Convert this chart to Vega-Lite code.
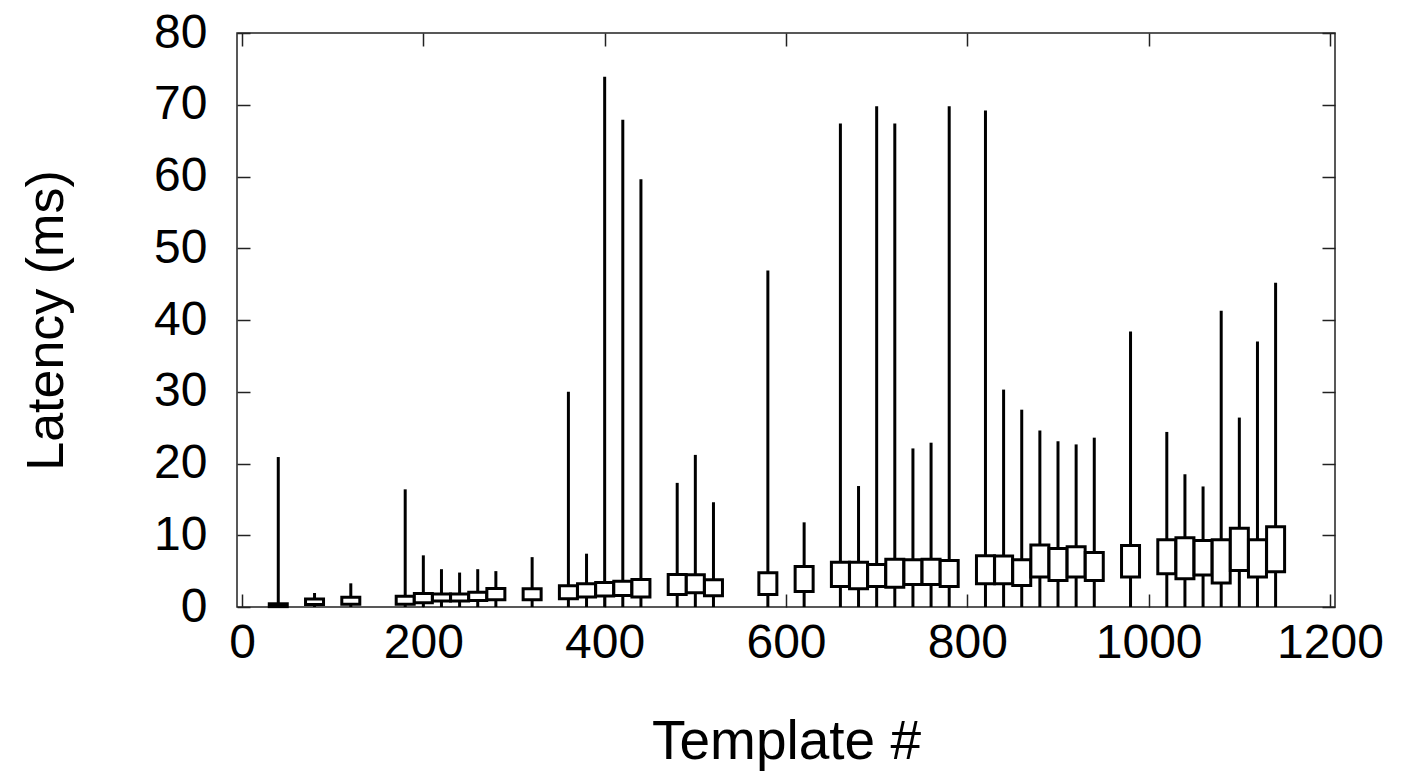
{
  "$schema": "https://vega.github.io/schema/vega-lite/v6.json",
  "width": 1098,
  "height": 574,
  "autosize": {"type": "none"},
  "padding": {"left": 237, "top": 33, "right": 75, "bottom": 171},
  "background": "white",
  "config": {
    "view": {"stroke": "#222", "strokeWidth": 1.5},
    "font": "Liberation Sans",
    "axis": {"grid": false, "domain": false, "tickColor": "#222", "tickWidth": 1.5, "labelColor": "black", "titleColor": "black", "labelFont": "Liberation Sans", "titleFont": "Liberation Sans", "titleFontWeight": "normal", "format": "d"}
  },
  "data": {"values": [
    {"template": 40, "min": 0, "q1": 0.05, "q3": 0.45, "max": 20.9},
    {"template": 80, "min": 0, "q1": 0.35, "q3": 1.1, "max": 1.95},
    {"template": 120, "min": 0, "q1": 0.4, "q3": 1.35, "max": 3.3},
    {"template": 180, "min": 0, "q1": 0.4, "q3": 1.5, "max": 16.4},
    {"template": 200, "min": 0, "q1": 0.58, "q3": 1.88, "max": 7.2},
    {"template": 220, "min": 0, "q1": 0.82, "q3": 1.8, "max": 5.27},
    {"template": 240, "min": 0, "q1": 0.82, "q3": 1.8, "max": 4.8},
    {"template": 260, "min": 0, "q1": 0.9, "q3": 2.07, "max": 5.27},
    {"template": 280, "min": 0, "q1": 1.0, "q3": 2.58, "max": 5.0},
    {"template": 320, "min": 0, "q1": 1.0, "q3": 2.56, "max": 6.95},
    {"template": 360, "min": 0, "q1": 1.16, "q3": 2.97, "max": 30.0},
    {"template": 380, "min": 0, "q1": 1.38, "q3": 3.25, "max": 7.43},
    {"template": 400, "min": 0, "q1": 1.52, "q3": 3.43, "max": 73.9},
    {"template": 420, "min": 0, "q1": 1.6, "q3": 3.6, "max": 67.9},
    {"template": 440, "min": 0, "q1": 1.38, "q3": 3.83, "max": 59.6},
    {"template": 480, "min": 0, "q1": 1.74, "q3": 4.53, "max": 17.3},
    {"template": 500, "min": 0, "q1": 1.98, "q3": 4.49, "max": 21.2},
    {"template": 520, "min": 0, "q1": 1.56, "q3": 3.79, "max": 14.6},
    {"template": 580, "min": 0, "q1": 1.74, "q3": 4.77, "max": 46.9},
    {"template": 620, "min": 0, "q1": 2.16, "q3": 5.64, "max": 11.8},
    {"template": 660, "min": 0, "q1": 2.86, "q3": 6.24, "max": 67.4},
    {"template": 680, "min": 0, "q1": 2.53, "q3": 6.24, "max": 16.86},
    {"template": 700, "min": 0, "q1": 2.86, "q3": 5.92, "max": 69.8},
    {"template": 720, "min": 0, "q1": 2.77, "q3": 6.67, "max": 67.4},
    {"template": 740, "min": 0, "q1": 3.14, "q3": 6.58, "max": 22.1},
    {"template": 760, "min": 0, "q1": 3.14, "q3": 6.67, "max": 22.9},
    {"template": 780, "min": 0, "q1": 2.86, "q3": 6.49, "max": 69.8},
    {"template": 820, "min": 0, "q1": 3.24, "q3": 7.14, "max": 69.2},
    {"template": 840, "min": 0, "q1": 3.24, "q3": 7.1, "max": 30.3},
    {"template": 860, "min": 0, "q1": 2.99, "q3": 6.58, "max": 27.5},
    {"template": 880, "min": 0, "q1": 4.17, "q3": 8.63, "max": 24.6},
    {"template": 900, "min": 0, "q1": 3.7, "q3": 8.15, "max": 23.1},
    {"template": 920, "min": 0, "q1": 4.17, "q3": 8.4, "max": 22.66},
    {"template": 940, "min": 0, "q1": 3.7, "q3": 7.6, "max": 23.6},
    {"template": 980, "min": 0, "q1": 4.17, "q3": 8.57, "max": 38.4},
    {"template": 1020, "min": 0, "q1": 4.64, "q3": 9.36, "max": 24.4},
    {"template": 1040, "min": 0, "q1": 3.93, "q3": 9.65, "max": 18.5},
    {"template": 1060, "min": 0, "q1": 4.45, "q3": 9.27, "max": 16.8},
    {"template": 1080, "min": 0, "q1": 3.33, "q3": 9.36, "max": 41.3},
    {"template": 1100, "min": 0, "q1": 5.1, "q3": 10.99, "max": 26.4},
    {"template": 1120, "min": 0, "q1": 4.17, "q3": 9.36, "max": 37.0},
    {"template": 1140, "min": 0, "q1": 4.9, "q3": 11.18, "max": 45.2}
  ]},
  "resolve": {"axis": {"x": "independent", "y": "independent"}},
  "layer": [
    {
      "mark": {"type": "rule", "color": "black", "strokeWidth": 3},
      "encoding": {
        "x": {"field": "template", "type": "quantitative", "scale": {"domain": [0, 1200], "nice": false},
          "axis": {"orient": "bottom", "values": [0, 200, 400, 600, 800, 1000, 1200], "tickSize": -13, "labelFontSize": 48, "labelPadding": 25, "labelFlush": false, "labelOverlap": false, "title": "Template #", "titleFontSize": 55, "titlePadding": 48}},
        "y": {"field": "min", "type": "quantitative", "scale": {"domain": [0, 80], "nice": false},
          "axis": {"orient": "left", "values": [0, 10, 20, 30, 40, 50, 60, 70, 80], "tickSize": -13, "labelFontSize": 48, "labelPadding": 43, "labelFlush": false, "labelOverlap": false, "title": "Latency (ms)", "titleFontSize": 52, "titlePadding": 80}},
        "y2": {"field": "max"}
      }
    },
    {
      "mark": {"type": "bar", "fill": "white", "stroke": "black", "strokeWidth": 3, "size": 18, "orient": "vertical"},
      "encoding": {
        "x": {"field": "template", "type": "quantitative",
          "axis": {"orient": "top", "values": [0, 200, 400, 600, 800, 1000, 1200], "tickSize": -13, "labels": false, "title": null}},
        "y": {"field": "q1", "type": "quantitative",
          "axis": {"orient": "right", "values": [0, 10, 20, 30, 40, 50, 60, 70, 80], "tickSize": -13, "labels": false, "title": null}},
        "y2": {"field": "q3"}
      }
    }
  ]
}
